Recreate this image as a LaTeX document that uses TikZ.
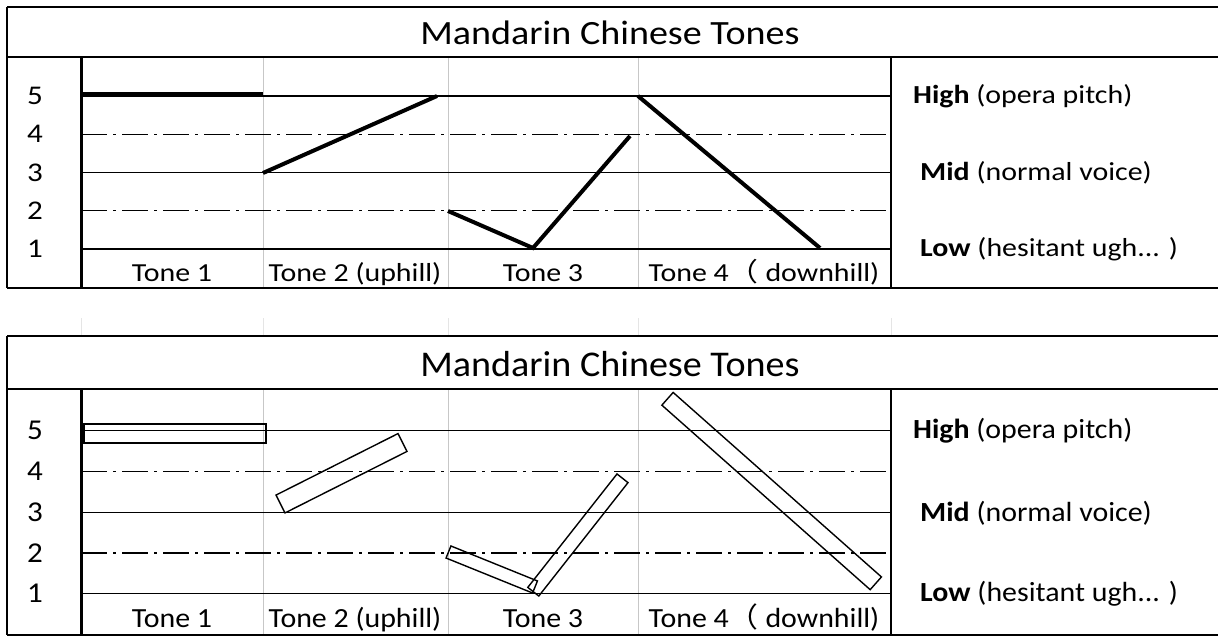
\documentclass[tikz,border=0pt]{standalone}
\usepackage{fontspec}
\setmainfont{Carlito}
\newfontfamily\cjk{Noto Sans CJK SC}
\usetikzlibrary{calc}

\tikzset{
  frame/.style={line width=2.4pt},
  level/.style={line width=1.2pt},
  halflevel/.style={line width=1.2pt, dash pattern=on 26pt off 6pt on 3pt off 6pt},
  colsep/.style={line width=1pt, black!22},
  gridfaint/.style={line width=1pt, black!10},
  tonemark/.style={line width=4pt},
  tonebar/.style={line width=1.4pt, line join=miter},
  txt/.style={inner sep=0pt, xscale=1.15, transform shape, font=\fontsize{26}{30}\selectfont},
  lvltxt/.style={txt, font=\fontsize{27}{31}\selectfont},
  titletxt/.style={inner sep=0pt, xscale=1.12, transform shape, font=\fontsize{34}{40}\selectfont},
}

% bar along a segment: #1 start, #2 end, #3 half width
\newcommand{\drawbar}[3]{%
  \draw[tonebar] ($#1!#3!90:#2$) -- ($#2!#3!-90:#1$) -- ($#2!#3!90:#1$) -- ($#1!#3!-90:#2$) -- cycle;}

\begin{document}
\begin{tikzpicture}[x=1pt, y=-1pt]

  % canvas
  \def\W{1218}
  \def\H{637}
  \fill[white] (0,0) rectangle (\W,\H);
  \useasboundingbox (0,0) rectangle (\W,\H);

  % column borders
  \def\xl{7}
  \def\xa{81}
  \def\xb{263}
  \def\xc{448}
  \def\xd{638}
  \def\xe{891}

  % faint sheet grid between the two tables
  \foreach \x in {\xa,\xb,\xc,\xd,\xe}
    \draw[gridfaint] (\x,318) -- (\x,336);

  % the two tables (lower one slightly taller)
  \foreach \tb/\sh/\sc in {top/7/1, bot/336/1.065} {
    \begin{scope}[shift={(0,\sh)}, yscale=\sc]
      % grey cell borders
      \foreach \x in {\xb,\xc,\xd}
        \draw[colsep] (\x,50) -- (\x,281);
      % pitch levels
      \foreach \lv in {1,3,5}
        \draw[level] (\xa,{242-38.25*(\lv-1)}) -- (\xe,{242-38.25*(\lv-1)});
      \foreach \lv in {2,4}
        \draw[halflevel] (\xa,{242-38.25*(\lv-1)}) -- (\xe,{242-38.25*(\lv-1)});
      % frame
      \draw[frame] (\xl,0) -- (\W,0);
      \draw[frame] (\xl,50) -- (\W,50);
      \draw[frame] (\xl,281) -- (\W,281);
      \draw[line width=2pt] (\xl,0) -- (\xl,281);
      \draw[line width=3pt] (\xa,50) -- (\xa,281);
      \draw[line width=1.5pt] (\xe,50) -- (\xe,281);

      % texts
      \node[titletxt] (\tb-title) at (610,26) {Mandarin Chinese Tones};
      \foreach \lv in {1,...,5}
        \node[lvltxt] (\tb-lv\lv) at (35,{242-38.25*(\lv-1)}) {\lv};
      \node[txt, anchor=base] (\tb-tone1) at (172,274) {Tone 1};
      \node[txt, anchor=base] (\tb-tone2) at (355,274) {Tone 2 (uphill)};
      \node[txt, anchor=base] (\tb-tone3) at (543,274) {Tone 3};
      \node[txt, anchor=base] (\tb-tone4) at (764,274) {Tone 4{\cjk （} downhill)};
      \node[txt, anchor=west] (\tb-high) at (913,89) {\textbf{High} (opera pitch)};
      \node[txt, anchor=west] (\tb-mid) at (920,166) {\textbf{Mid} (normal voice)};
      \node[txt, anchor=west] (\tb-low) at (920,242) {\textbf{Low} (hesitant ugh... )};
    \end{scope}
  }

  % upper table: pitch contours
  \draw[tonemark, line width=5pt] (\xa,94) -- (\xb,94);
  \draw[tonemark] (263,173) -- (437,96);
  \draw[tonemark] (448,211) -- (533,248) -- (630,136);
  \draw[tonemark] (638,96) -- (820,248);

  % lower table: contours as bars
  \draw[tonebar, line width=2.6pt] (84,424) rectangle (266,443);
  \drawbar{(280.5,504)}{(402.5,442.5)}{10pt}
  \drawbar{(448.5,552)}{(535,587)}{6.5pt}
  \drawbar{(533.3,591.7)}{(622.5,478.3)}{7pt}
  \drawbar{(667.5,398.8)}{(875.8,583.3)}{8.5pt}

\end{tikzpicture}
\end{document}
